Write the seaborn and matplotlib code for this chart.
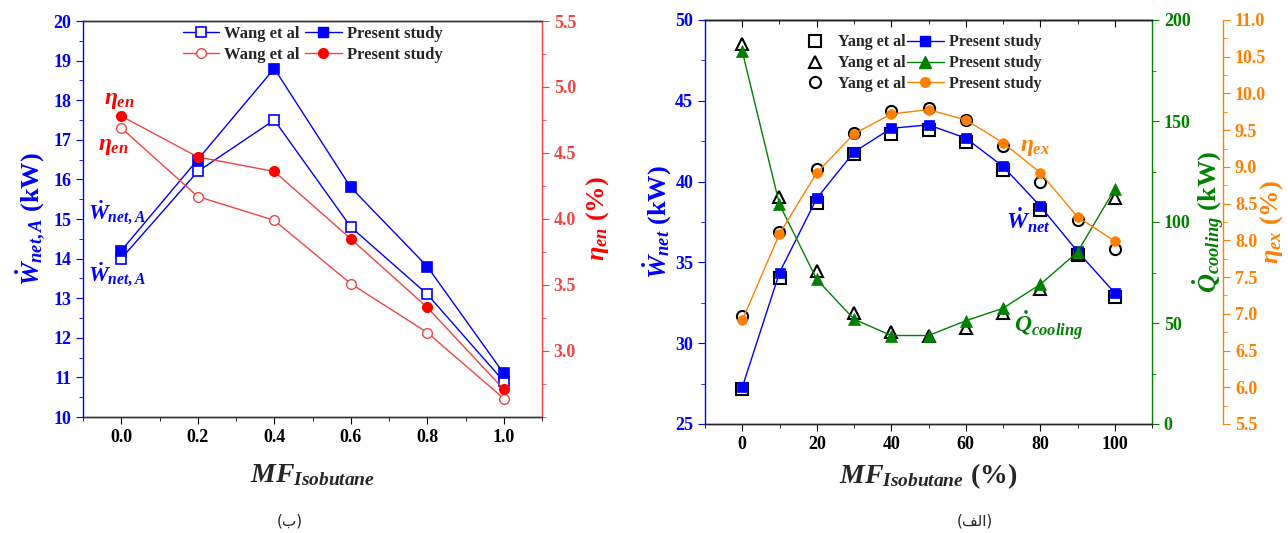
import matplotlib
matplotlib.use("Agg")
import matplotlib.pyplot as plt
import seaborn as sns
from matplotlib.lines import Line2D
from matplotlib.ticker import MultipleLocator, FormatStrFormatter, NullFormatter

# ---------------- data: panel (b), left ----------------
mf_frac = [0.0, 0.2, 0.4, 0.6, 0.8, 1.0]
w_net_wang = [14.0, 16.2, 17.5, 14.8, 13.1, 10.9]
w_net_present = [14.2, 16.5, 18.8, 15.8, 13.8, 11.1]
eta_en_wang = [4.69, 4.17, 3.99, 3.51, 3.14, 2.64]
eta_en_present = [4.78, 4.47, 4.36, 3.85, 3.33, 2.71]

# ---------------- data: panel (a), right ----------------
mf_pct = [0, 10, 20, 30, 40, 50, 60, 70, 80, 90, 100]
w_net_yang = [27.17, 34.06, 38.69, 41.70, 42.94, 43.22, 42.46, 40.73, 38.23, 35.47, 32.86]
w_net_pres = [27.27, 34.37, 38.96, 41.83, 43.30, 43.51, 42.69, 40.94, 38.48, 35.68, 33.11]
q_cool_yang = [187.9, 112.6, 75.5, 54.8, 45.5, 43.8, 47.7, 54.8, 66.6, 84.3, 111.7]
q_cool_pres = [184.5, 108.7, 71.6, 51.9, 43.8, 43.8, 51.1, 57.3, 69.1, 85.1, 116.3]
eta_ex_yang = [6.97, 8.12, 8.97, 9.46, 9.76, 9.80, 9.64, 9.29, 8.80, 8.28, 7.88]
eta_ex_pres = [6.91, 8.09, 8.92, 9.45, 9.72, 9.78, 9.64, 9.33, 8.92, 8.32, 7.99]

BLUE = '#0000FF'
RED = '#FF0000'
RED_L = '#F04444'
GREEN = '#008000'
ORANGE = '#FF8000'

sns.set_style("ticks")
plt.rcParams['font.family'] = ['Liberation Serif', 'DejaVu Sans']
plt.rcParams['font.weight'] = 'bold'
plt.rcParams['axes.labelweight'] = 'bold'
plt.rcParams['mathtext.fontset'] = 'custom'
plt.rcParams['mathtext.rm'] = 'Liberation Serif:bold'
plt.rcParams['mathtext.it'] = 'Liberation Serif:italic:bold'
plt.rcParams['mathtext.bf'] = 'Liberation Serif:bold'
plt.rcParams['mathtext.fallback'] = 'stix'
plt.rcParams['axes.linewidth'] = 1.0

W, H = 1288, 533
fig = plt.figure(figsize=(W / 100, H / 100), dpi=100)
ax1 = fig.add_axes([83 / W, 1 - 417 / H, (542 - 83) / W, (417 - 21) / H])
ax2 = ax1.twinx()

TICK = 13
LAB = 19

# ---- left panel lines
sns.lineplot(x=mf_frac, y=w_net_wang, ax=ax1, color=BLUE, lw=1, marker='s', ms=7,
             mfc='white', mec=BLUE, mew=1.2)
sns.lineplot(x=mf_frac, y=w_net_present, ax=ax1, color=BLUE, lw=1, marker='s', ms=7,
             mfc=BLUE, mec=BLUE, mew=1.2)
sns.lineplot(x=mf_frac, y=eta_en_wang, ax=ax2, color=RED_L, lw=1, marker='o', ms=7,
             mfc='white', mec=RED_L, mew=1.0)
sns.lineplot(x=mf_frac, y=eta_en_present, ax=ax2, color=RED_L, lw=1, marker='o', ms=7,
             mfc=RED, mec=RED, mew=1.0)

ax1.set_xlim(-0.1, 1.1)
ax1.set_ylim(10, 20)
ax2.set_ylim(2.5, 5.5)
ax1.set_xticks(mf_frac)
ax1.xaxis.set_major_formatter(FormatStrFormatter('%.1f'))
ax1.xaxis.set_minor_locator(MultipleLocator(0.1))
ax1.yaxis.set_major_locator(MultipleLocator(1))
ax1.yaxis.set_minor_locator(MultipleLocator(0.5))
ax2.set_yticks([3.0, 3.5, 4.0, 4.5, 5.0, 5.5])
ax2.yaxis.set_minor_locator(MultipleLocator(0.25))
ax2.yaxis.set_major_formatter(FormatStrFormatter('%.1f'))

ax1.tick_params(axis='x', which='both', direction='out', labelsize=TICK, colors='black')
ax1.tick_params(axis='y', which='both', direction='out', labelsize=TICK, colors=BLUE)
ax1.tick_params(which='major', length=5)
ax1.tick_params(which='minor', length=3)
ax2.tick_params(axis='y', which='both', direction='out', labelsize=TICK, colors=RED_L)
ax2.tick_params(which='major', length=5)
ax2.tick_params(which='minor', length=3)
ax1.spines['left'].set_color(BLUE)
ax1.spines['right'].set_visible(False)
ax2.spines['left'].set_visible(False)
ax2.spines['right'].set_color(RED_L)
for a in (ax1, ax2):
    a.spines['top'].set_color('#333333')
    a.spines['bottom'].set_color('#333333')

ax1.set_xlabel(r'$MF_{Isobutane}$', fontsize=LAB + 1, labelpad=12)
ax1.set_ylabel(r'$\dot{W}_{net,A}$ (kW)', fontsize=LAB, color=BLUE, labelpad=4)
ax2.set_ylabel(r'$\eta_{en}$ (%)', fontsize=LAB, color=RED, labelpad=6)

ax2.text(-0.005, 4.9, r'$\eta_{en}$', color=RED, fontsize=17, ha='center', va='center')
ax2.text(-0.02, 4.55, r'$\eta_{en}$', color=RED, fontsize=17, ha='center', va='center')
ax1.text(-0.01, 15.15, r'$\dot{W}_{net,A}$', color=BLUE, fontsize=16, ha='center', va='center')
ax1.text(-0.01, 13.6, r'$\dot{W}_{net,A}$', color=BLUE, fontsize=16, ha='center', va='center')

h_wb = Line2D([], [], color=BLUE, lw=1, marker='s', ms=7, mfc='white', mec=BLUE, mew=1.2)
h_pb = Line2D([], [], color=BLUE, lw=1, marker='s', ms=7, mfc=BLUE, mec=BLUE)
h_wr = Line2D([], [], color=RED_L, lw=1, marker='o', ms=7, mfc='white', mec=RED_L)
h_pr = Line2D([], [], color=RED_L, lw=1, marker='o', ms=7, mfc=RED, mec=RED)
ax2.legend(handles=[h_wb, h_wr, h_pb, h_pr],
           labels=['Wang et al', 'Wang et al', 'Present study', 'Present study'],
           ncol=2, loc='upper center', bbox_to_anchor=(0.5, 1.025), frameon=False,
           handlelength=2.2, handletextpad=0.3, columnspacing=0.3, labelspacing=0.3,
           prop={'weight': 'bold', 'size': 12})

# ---------------- right panel ----------------
ax3 = fig.add_axes([705 / W, 1 - 424 / H, (1152 - 705) / W, (424 - 20) / H])
ax4 = ax3.twinx()
ax5 = ax3.twinx()
ax5.spines['right'].set_position(('axes', 1.159))

open_kw = dict(linestyle='', ms=8, mfc='none', mec='black', mew=1.5)
sns.lineplot(x=mf_pct, y=w_net_yang, ax=ax3, marker='s', color='black', **open_kw)
sns.lineplot(x=mf_pct, y=w_net_pres, ax=ax3, color=BLUE, lw=1, marker='s', ms=7,
             mfc=BLUE, mec=BLUE, mew=0.5)
sns.lineplot(x=mf_pct, y=q_cool_yang, ax=ax4, marker='^', color='black', **open_kw)
sns.lineplot(x=mf_pct, y=q_cool_pres, ax=ax4, color=GREEN, lw=1, marker='^', ms=8,
             mfc=GREEN, mec=GREEN, mew=0.5)
sns.lineplot(x=mf_pct, y=eta_ex_yang, ax=ax5, marker='o', color='black', **open_kw)
sns.lineplot(x=mf_pct, y=eta_ex_pres, ax=ax5, color=ORANGE, lw=1, marker='o', ms=7,
             mfc=ORANGE, mec=ORANGE, mew=0.5)

ax3.set_xlim(-10, 110)
ax3.set_ylim(25, 50)
ax4.set_ylim(0, 200)
ax5.set_ylim(5.5, 11.0)
ax3.xaxis.set_major_locator(MultipleLocator(20))
ax3.xaxis.set_minor_locator(MultipleLocator(10))
ax3.yaxis.set_major_locator(MultipleLocator(5))
ax3.yaxis.set_minor_locator(MultipleLocator(2.5))
ax4.yaxis.set_major_locator(MultipleLocator(50))
ax4.yaxis.set_minor_locator(MultipleLocator(25))
ax5.yaxis.set_major_locator(MultipleLocator(0.5))
ax5.yaxis.set_minor_locator(MultipleLocator(0.25))
ax5.yaxis.set_major_formatter(FormatStrFormatter('%.1f'))

ax3.tick_params(axis='x', which='both', direction='out', labelsize=TICK, colors='black')
ax3.tick_params(axis='y', which='both', direction='out', labelsize=TICK, colors=BLUE)
ax4.tick_params(axis='y', which='both', direction='out', labelsize=TICK, colors=GREEN)
ax5.tick_params(axis='y', which='both', direction='out', labelsize=TICK, colors=ORANGE)
for a in (ax3, ax4, ax5):
    a.tick_params(which='major', length=5)
    a.tick_params(which='minor', length=3)

top = ax3.secondary_xaxis('top')
top.xaxis.set_major_locator(MultipleLocator(20))
top.xaxis.set_minor_locator(MultipleLocator(10))
top.xaxis.set_major_formatter(NullFormatter())
top.tick_params(which='both', direction='in', colors='black')
top.tick_params(which='major', length=5)
top.tick_params(which='minor', length=3)

ax3.spines['left'].set_color(BLUE)
ax3.spines['right'].set_visible(False)
ax4.spines['left'].set_visible(False)
ax4.spines['right'].set_color(GREEN)
ax5.spines['left'].set_visible(False)
ax5.spines['top'].set_visible(False)
ax5.spines['bottom'].set_visible(False)
ax5.spines['right'].set_color(ORANGE)

ax3.set_xlabel(r'$MF_{Isobutane}$ (%)', fontsize=LAB + 1, labelpad=6)
ax3.set_ylabel(r'$\dot{W}_{net}$ (kW)', fontsize=LAB, color=BLUE, labelpad=1)
ax4.set_ylabel(r'$\dot{Q}_{cooling}$ (kW)', fontsize=LAB, color=GREEN, labelpad=0)
ax5.set_ylabel(r'$\eta_{ex}$ (%)', fontsize=LAB, color=ORANGE, labelpad=-6)

ax3.text(78.6, 42.1, r'$\eta_{ex}$', color=ORANGE, fontsize=17, ha='center', va='center')
ax3.text(76.7, 37.6, r'$\dot{W}_{net}$', color=BLUE, fontsize=17, ha='center', va='center')
ax3.text(82.3, 31.1, r'$\dot{Q}_{cooling}$', color=GREEN, fontsize=17, ha='center', va='center')

y_sq = Line2D([], [], **dict(open_kw, marker='s'))
y_tr = Line2D([], [], **dict(open_kw, marker='^'))
y_ci = Line2D([], [], **dict(open_kw, marker='o'))
p_sq = Line2D([], [], color=BLUE, lw=1, marker='s', ms=7, mfc=BLUE, mec=BLUE)
p_tr = Line2D([], [], color=GREEN, lw=1, marker='^', ms=8, mfc=GREEN, mec=GREEN)
p_ci = Line2D([], [], color=ORANGE, lw=1, marker='o', ms=7, mfc=ORANGE, mec=ORANGE)
ax5.legend(handles=[y_sq, y_tr, y_ci, p_sq, p_tr, p_ci],
           labels=['Yang et al'] * 3 + ['Present study'] * 3,
           ncol=2, loc='upper center', bbox_to_anchor=(0.478, 1.0), frameon=False,
           handlelength=2.3, handletextpad=0.3, columnspacing=0.1, labelspacing=0.3,
           prop={'weight': 'bold', 'size': 11.5})

# captions (Arabic, shaped presentation forms)
fig.text(290 / W, 1 - 521 / H, '(\uFE8F)', ha='center', va='center', fontsize=11,
         family=['DejaVu Sans'], fontweight='normal')
fig.text(975 / W, 1 - 521 / H, '(\uFED2\uFEDF\uFE8D)', ha='center', va='center', fontsize=11,
         family=['DejaVu Sans'], fontweight='normal')

fig.savefig('out.png', dpi=100)
